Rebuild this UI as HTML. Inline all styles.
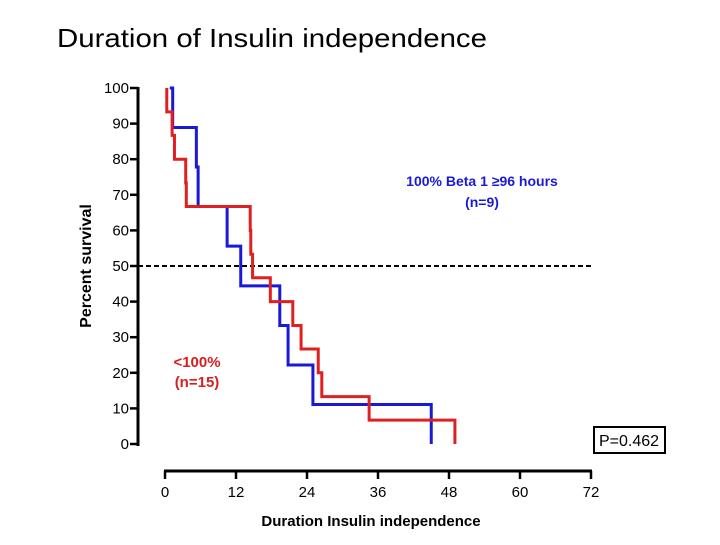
<!DOCTYPE html>
<html><head><meta charset="utf-8"><style>
body{margin:0;background:#fff;width:720px;height:540px;overflow:hidden}
svg text{font-family:"Liberation Sans",sans-serif}
</style></head><body>
<svg width="720" height="540">
<text x="57" y="47" font-size="26" fill="#000" textLength="430" lengthAdjust="spacingAndGlyphs">Duration of Insulin independence</text>
<g id="yaxis"></g>
<g id="xaxis"></g>
<line x1="138" x2="591" y1="266" y2="266" stroke="#000" stroke-width="2" stroke-dasharray="5,3"/>
<g id="series"></g>
<text font-size="16" font-weight="bold" transform="rotate(-90 85 266)" text-anchor="middle"><tspan x="85" y="272">Percent survival</tspan></text>
<text x="371" y="526" font-size="15" font-weight="bold" text-anchor="middle">Duration Insulin independence</text>
<text x="482" y="186" font-size="14" font-weight="bold" fill="#1a1ad6" text-anchor="middle">100% Beta 1 ≥96 hours</text>
<text x="482" y="207" font-size="14" font-weight="bold" fill="#1a1ad6" text-anchor="middle">(n=9)</text>
<text x="197" y="367" font-size="15" font-weight="bold" fill="#d62020" text-anchor="middle">&lt;100%</text>
<text x="197" y="387" font-size="15" font-weight="bold" fill="#d62020" text-anchor="middle">(n=15)</text>
<rect x="594" y="427" width="71" height="26" fill="#fff" stroke="#000" stroke-width="2"/>
<text x="629" y="446" font-size="16" text-anchor="middle">P=0.462</text>
</svg>
<script>
const yTicks=[0,10,20,30,40,50,60,70,80,90,100];
const xTicks=[0,12,24,36,48,60,72];
const blueTimes=[0,1.3,5.3,5.6,10.5,12.8,19.4,20.8,25.0,45.0];
const blueSurv=[100,88.9,77.8,66.7,55.6,44.4,33.3,22.2,11.1,0];
const blueStart=0.8;
const redTimes=[0,0.3,1.2,1.6,3.5,3.6,14.4,14.5,14.8,17.8,21.6,23.0,25.9,26.5,34.5,49.0];
const redSurv=[100,93.3,86.7,80,73.3,66.7,60,53.3,46.7,40,33.3,26.7,20,13.3,6.7,0];
const redStart=0.3;
const NS='http://www.w3.org/2000/svg';
const X=t=>165+t*(591-165)/72, Y=v=>444-v*(444-88)/100;
function mk(tag,attrs,parent){const e=document.createElementNS(NS,tag);for(const k in attrs)e.setAttribute(k,attrs[k]);parent.appendChild(e);return e;}
const ya=document.getElementById('yaxis'),xa=document.getElementById('xaxis'),sg=document.getElementById('series');
let l=mk('line',{x1:138,x2:138,y1:87,y2:446,stroke:'#000','stroke-width':3},ya);


yTicks.forEach(v=>{
 let t=mk('line',{x1:130,x2:138,y1:Y(v),y2:Y(v),stroke:'#000','stroke-width':2.5},ya);
 
 
 let tx=mk('text',{x:129,y:Y(v)+5,'font-size':15,'text-anchor':'end'},ya);tx.textContent=v;
 
 
});
l=mk('line',{x1:164,x2:592,y1:471,y2:471,stroke:'#000','stroke-width':3},xa);


xTicks.forEach(v=>{
 let t=mk('line',{x1:X(v),x2:X(v),y1:471,y2:479,stroke:'#000','stroke-width':2.5},xa);
 
 
 let tx=mk('text',{x:X(v),y:497,'font-size':15,'text-anchor':'middle'},xa);tx.textContent=v;
 
 
});
function step(times,surv,start,color,name){
 let d='M'+X(start)+','+Y(surv[0]);
 for(let i=1;i<times.length;i++){d+=' H'+X(times[i])+' V'+Y(surv[i]);}
 const p=mk('path',{d:d,fill:'none',stroke:color,'stroke-width':3},sg);
 
 
}
step(blueTimes,blueSurv,blueStart,'#1a1ad6','blue-survival-curve');
step(redTimes,redSurv,redStart,'#e02020','red-survival-curve');
</script>
</body></html>
